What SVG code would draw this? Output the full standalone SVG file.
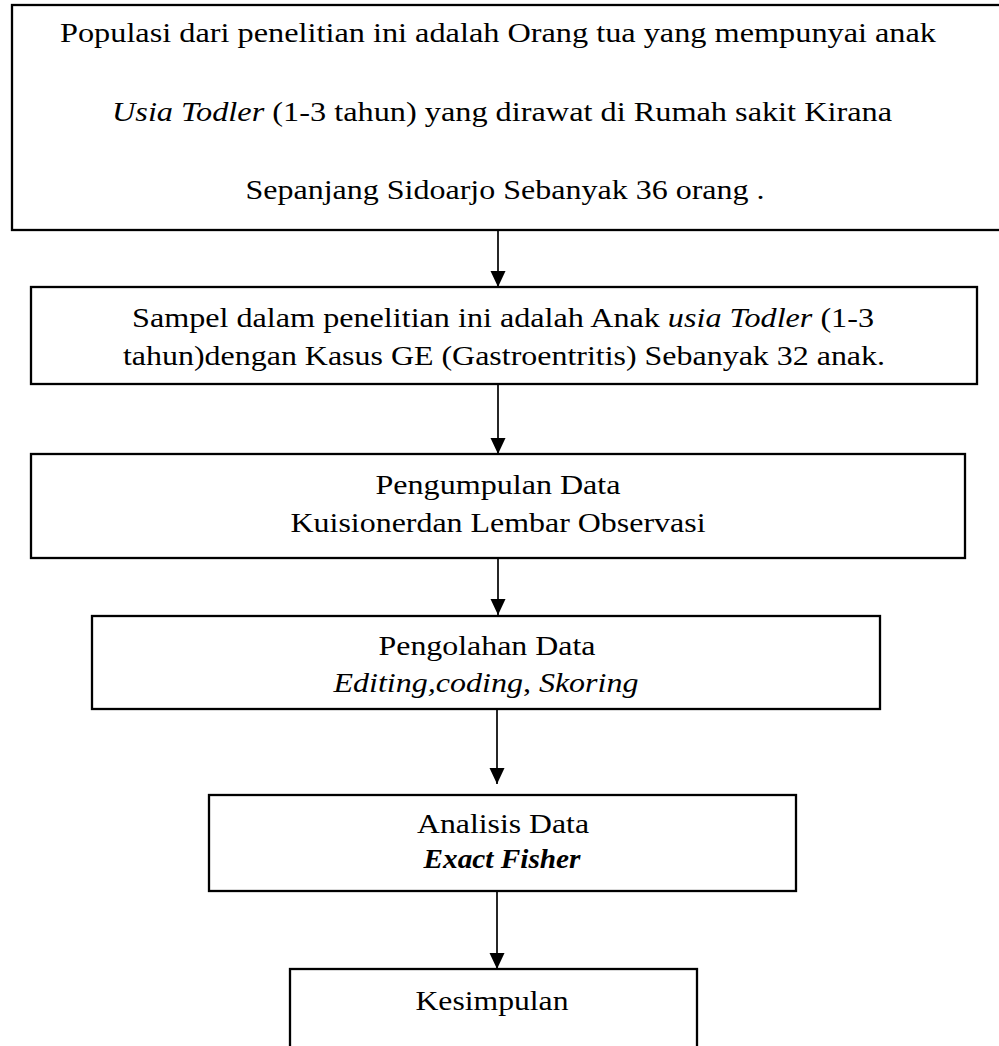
<svg xmlns="http://www.w3.org/2000/svg" width="999" height="1046" viewBox="0 0 999 1046">
<style>
.box{fill:#fff;stroke:#000;stroke-width:2.3}
.t{font-family:'Liberation Serif','Times New Roman',Times,serif;font-size:28px;fill:#000;text-anchor:middle}
.i{font-style:italic}
.bi{font-style:italic;font-weight:bold}
.c{stroke:#000;stroke-width:1.7;fill:none}
</style>
<defs>
<marker id="ah" markerUnits="userSpaceOnUse" markerWidth="16" markerHeight="16" viewBox="0 0 16 16" refX="16" refY="8" orient="auto">
<path d="M0,0.5 L16,8 L0,15.5 Z" fill="#000"/>
</marker>
</defs>
<rect width="999" height="1046" fill="#fff"/>
<g id="connectors">
<line class="c" x1="498" y1="230" x2="498" y2="287" marker-end="url(#ah)"/>
<line class="c" x1="498" y1="384" x2="498" y2="454" marker-end="url(#ah)"/>
<line class="c" x1="498" y1="558" x2="498" y2="615" marker-end="url(#ah)"/>
<line class="c" x1="497" y1="709" x2="497" y2="784" marker-end="url(#ah)"/>
<line class="c" x1="497" y1="891" x2="497" y2="969" marker-end="url(#ah)"/>
</g>
<g id="populasi">
<rect class="box" x="12" y="5" width="1000" height="225"/>
<text class="t" x="498" y="42" textLength="876" lengthAdjust="spacingAndGlyphs">Populasi dari penelitian ini adalah Orang tua yang mempunyai anak</text>
<text class="t" x="502" y="121" textLength="780" lengthAdjust="spacingAndGlyphs"><tspan class="i">Usia Todler</tspan> (1-3 tahun) yang dirawat di Rumah sakit Kirana</text>
<text class="t" x="505" y="199" textLength="519" lengthAdjust="spacingAndGlyphs">Sepanjang Sidoarjo Sebanyak 36 orang .</text>
</g>
<g id="sampel">
<rect class="box" x="31" y="287" width="946" height="97"/>
<text class="t" x="503" y="327" textLength="742" lengthAdjust="spacingAndGlyphs">Sampel dalam penelitian ini adalah Anak <tspan class="i">usia Todler</tspan> (1-3</text>
<text class="t" x="504" y="365" textLength="762" lengthAdjust="spacingAndGlyphs">tahun)dengan Kasus GE (Gastroentritis) Sebanyak 32 anak.</text>
</g>
<g id="pengumpulan">
<rect class="box" x="31" y="454" width="934" height="104"/>
<text class="t" x="498" y="494" textLength="245" lengthAdjust="spacingAndGlyphs">Pengumpulan Data</text>
<text class="t" x="498" y="532" textLength="415" lengthAdjust="spacingAndGlyphs">Kuisionerdan Lembar Observasi</text>
</g>
<g id="pengolahan">
<rect class="box" x="92" y="616" width="788" height="93"/>
<text class="t" x="487" y="655" textLength="217" lengthAdjust="spacingAndGlyphs">Pengolahan Data</text>
<text class="t" x="486" y="692" textLength="305" lengthAdjust="spacingAndGlyphs"><tspan class="i">Editing,coding</tspan>, <tspan class="i">Skoring</tspan></text>
</g>
<g id="analisis">
<rect class="box" x="209" y="795" width="587" height="96"/>
<text class="t" x="503" y="833" textLength="172" lengthAdjust="spacingAndGlyphs">Analisis Data</text>
<text class="t bi" x="502" y="868" textLength="157" lengthAdjust="spacingAndGlyphs">Exact Fisher</text>
</g>
<g id="kesimpulan">
<rect class="box" x="290" y="969" width="407" height="100"/>
<text class="t" x="492" y="1010" textLength="153" lengthAdjust="spacingAndGlyphs">Kesimpulan</text>
</g>
</svg>
